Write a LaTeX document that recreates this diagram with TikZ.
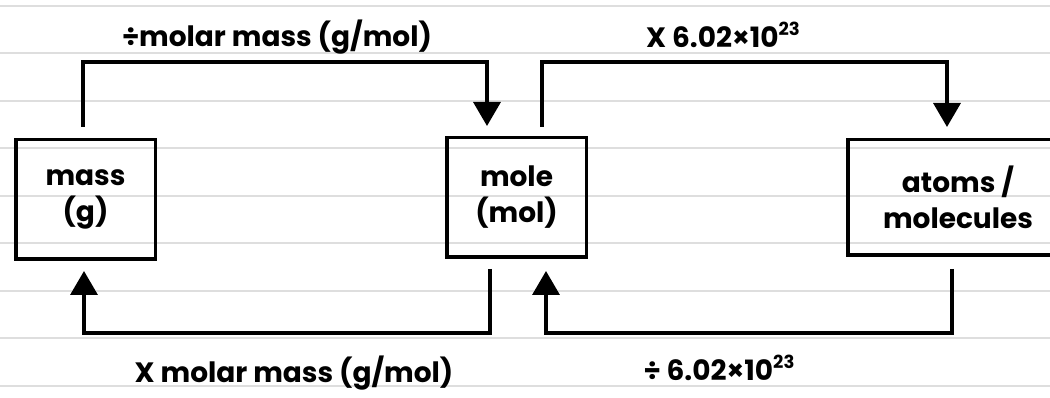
\documentclass[tikz,border=0pt]{standalone}
\usepackage{fontspec}
\setmainfont{Poppins}
\usetikzlibrary{arrows.meta,positioning,calc}

\begin{document}
\begin{tikzpicture}[x=1pt,y=1pt,
  box/.style={draw,line width=3.5pt,minimum width=139.5pt,minimum height=119.5pt,align=center,font=\fontsize{28}{36}\selectfont\bfseries},
  conn/.style={line width=3.5pt,-{Triangle[width=27pt,length=24pt]}},
  lbl/.style={anchor=base,font=\fontsize{28}{34}\selectfont\bfseries}]
\useasboundingbox (0,0) rectangle (1050,398);
\fill[white] (0,0) rectangle (1050,398);
% ruled paper
\foreach \k in {0,...,8}
  \draw[line width=2pt,black!13] (0,{392-47.5*\k}) -- (1050,{392-47.5*\k});
% boxes
\node[box] (mass) at (85.5,198.5) {mass\\(g)};
\node[box] (mole) at (516.5,200.5) {mole\\(mol)};
\node[box,minimum width=220.5pt,minimum height=115.5pt] (atoms) at (958,200.5) {atoms /\\molecules};
% conversions
\draw[conn,shorten <=11pt,shorten >=10pt] ([xshift=-2.5pt]mass.north) -- ++(0,76) -| ([xshift=-29.5pt]mole.north);
\draw[conn,shorten <=9pt,shorten >=11pt] ([xshift=25.5pt]mole.north) -- ++(0,74) -| ([xshift=-11pt]atoms.north);
\draw[conn,shorten <=10pt,shorten >=10pt] ([xshift=-26.5pt]mole.south) -- ++(0,-74) -| ([xshift=-1.5pt]mass.south);
\draw[conn,shorten <=12pt,shorten >=12pt] ([xshift=-6pt]atoms.south) -- ++(0,-76) -| ([xshift=29.5pt]mole.south);
% labels
\node[lbl] (divmm) at (277,351) {÷molar mass (g/mol)};
\node[lbl] (mulav) at (723,350) {X 6.02×10\raisebox{0.45em}{\fontsize{18}{20}\selectfont 23}};
\node[lbl] (mulmm) at (294,15) {X molar mass (g/mol)};
\node[lbl] (divav) at (719,17) {÷ 6.02×10\raisebox{0.45em}{\fontsize{18}{20}\selectfont 23}};
\end{tikzpicture}
\end{document}
